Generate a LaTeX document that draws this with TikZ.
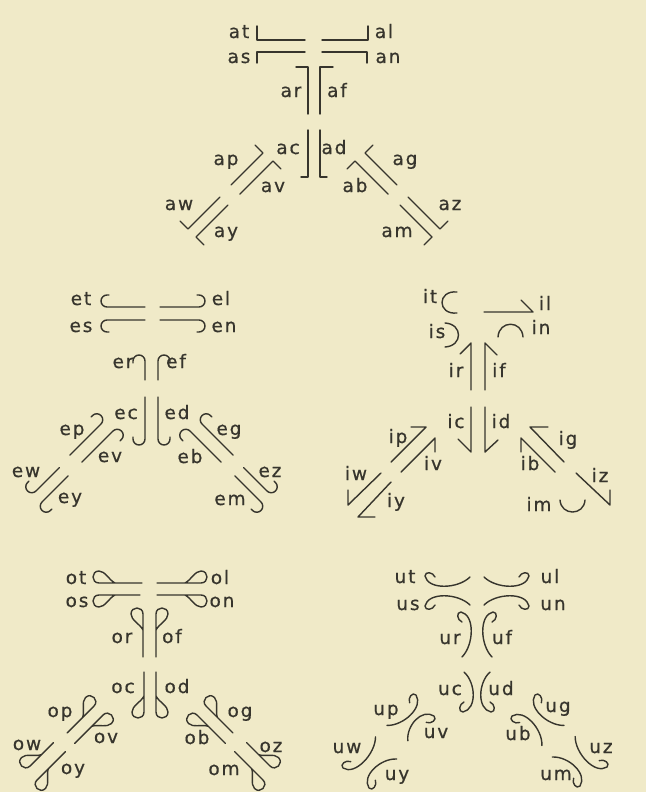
\documentclass[tikz,border=0pt]{standalone}
\usepackage{fontspec}
\setmainfont{DejaVu Sans}[LetterSpace=10,FakeBold=0.6]
\definecolor{bg}{RGB}{240,234,200}
\definecolor{ink}{RGB}{55,53,45}
% square hook: x,y of hook corner, direction angle, side, line length, hook length
\newcommand\sqh[6]{\draw[stk,shift={(#1,#2)},rotate=#3,yscale=#4] (-#5,0) -- (0,0) -- (0,#6);}
% round hook
\newcommand\rdh[5]{\draw[stk,shift={(#1,#2)},rotate=#3,yscale=#4] (-#5,0) -- (0,0) arc[start angle=-90,end angle=90,radius=6] -- ++(-2,0);}
% loop hook
\newcommand\lph[5]{\draw[stk,shift={(#1,#2)},rotate=#3,yscale=#4] (-#5,0) -- (0,0) .. controls (8,0) and (8,12) .. (0,12) .. controls (-6,12) and (-10,3) .. (-16,0);}
% curved stroke with curl
\newcommand\uh[5]{\draw[stk,shift={(#1,#2)},rotate=#3,yscale=#4] (-#5,-1) .. controls ({-0.73*#5},-13) and (-3,-14) .. (0,0) .. controls (0,5) and (-8,4) .. (-10,-1);}
\begin{document}
\begin{tikzpicture}[x=1pt,y=-1pt,
  stk/.style={draw=ink,line width=1.4pt,line cap=round,line join=round},
  lab/.style={text=ink,font=\fontsize{18.5}{18.5}\selectfont,inner sep=0pt,anchor=base,yshift=-5pt}]
\fill[bg] (0,0) rectangle (646,792);
\useasboundingbox (0,0) rectangle (646,792);

% ---------------- A ----------------
\sqh{257}{40}{180}{1}{48}{14}
\sqh{368}{40}{0}{-1}{46}{14}
\sqh{257}{52}{180}{-1}{48}{11}
\sqh{367}{52}{0}{1}{45}{11}
\sqh{308}{67}{90}{-1}{47}{12}
\sqh{320}{67}{90}{1}{47}{13}
\sqh{308}{177}{-90}{1}{47}{7}
\sqh{320}{177}{-90}{-1}{47}{7}
\sqh{263}{153}{45}{-1}{45}{11}
\sqh{273}{161}{45}{1}{47}{11}
\sqh{188}{229}{225}{1}{45}{11}
\sqh{196}{237}{225}{-1}{45}{11}
\sqh{365}{153}{135}{1}{45}{11}
\sqh{355}{161}{135}{-1}{47}{11}
\sqh{440}{229}{-45}{-1}{45}{11}
\sqh{432}{237}{-45}{1}{45}{11}
\node[lab] (Lat) at (239,33) {at};
\node[lab] (Las) at (239,58) {as};
\node[lab] (Lal) at (384,33) {al};
\node[lab] (Lan) at (388,58) {an};
\node[lab] (Lar) at (291,92) {ar};
\node[lab] (Laf) at (337,92) {af};
\node[lab] (Lac) at (288,149) {ac};
\node[lab] (Lad) at (334,149) {ad};
\node[lab] (Lap) at (226,160) {ap};
\node[lab] (Lav) at (273,187) {av};
\node[lab] (Law) at (179,205) {aw};
\node[lab] (Lay) at (226,232) {ay};
\node[lab] (Lag) at (405,160) {ag};
\node[lab] (Lab) at (355,187) {ab};
\node[lab] (Laz) at (450,205) {az};
\node[lab] (Lam) at (397,232) {am};

% ---------------- E ----------------
\rdh{107}{307}{180}{1}{38}
\rdh{199}{307}{0}{-1}{39}
\rdh{107}{320}{180}{-1}{38}
\rdh{199}{320}{0}{1}{39}
\rdh{145}{361}{90}{-1}{19}
\rdh{158}{361}{90}{1}{19}
\rdh{145}{439}{-90}{1}{42}
\rdh{158}{439}{-90}{-1}{42}
\rdh{101}{424}{45}{-1}{44}
\rdh{113}{431}{45}{1}{44}
\rdh{36}{491}{225}{1}{33}
\rdh{42}{502}{225}{-1}{37}
\rdh{202}{424}{135}{1}{44}
\rdh{190}{431}{135}{-1}{44}
\rdh{267}{491}{-45}{-1}{33}
\rdh{261}{502}{-45}{1}{37}
\node[lab] (Let) at (81,300) {et};
\node[lab] (Les) at (81,327) {es};
\node[lab] (Lel) at (221,300) {el};
\node[lab] (Len) at (224,327) {en};
\node[lab] (Ler) at (123,363) {er};
\node[lab] (Lef) at (176,363) {ef};
\node[lab] (Lec) at (126,414) {ec};
\node[lab] (Led) at (177,414) {ed};
\node[lab] (Lep) at (72,430) {ep};
\node[lab] (Lev) at (110,457) {ev};
\node[lab] (Lew) at (26,472) {ew};
\node[lab] (Ley) at (70,498) {ey};
\node[lab] (Leg) at (229,430) {eg};
\node[lab] (Leb) at (190,458) {eb};
\node[lab] (Lez) at (270,472) {ez};
\node[lab] (Lem) at (230,500) {em};

% ---------------- I ----------------
\draw[stk] (457,292) .. controls (437,290) and (437,315) .. (457,313);
\draw[stk] (484,312) -- (533,312) -- (521,300);
\draw[stk] (445,323) .. controls (463,324) and (463,346) .. (445,347);
\draw[stk] (498,337) .. controls (499,320) and (522,320) .. (523,337);
\draw[stk] (471,390) -- (471,343) -- (460,354);
\draw[stk] (485,390) -- (485,343) -- (497,355);
\draw[stk] (471,407) -- (471,452) -- (458,439);
\draw[stk] (485,407) -- (485,452) -- (498,440);
\draw[stk] (391,462) -- (426,427) -- (411,427);
\draw[stk] (401,472) -- (435,438) -- (435,452);
\draw[stk] (381,473) -- (348,505) -- (348,490);
\draw[stk] (391,482) -- (358,517) -- (375,517);
\draw[stk] (564,462) -- (530,427) -- (548,427);
\draw[stk] (555,472) -- (521,438) -- (521,452);
\draw[stk] (576,473) -- (610,505) -- (610,490);
\draw[stk] (560,500) .. controls (561,516) and (584,516) .. (585,500);
\node[lab] (Lit) at (430,298) {it};
\node[lab] (Lil) at (545,305) {il};
\node[lab] (Lis) at (437,333) {is};
\node[lab] (Lin) at (541,329) {in};
\node[lab] (Lir) at (456,372) {ir};
\node[lab] (Lif) at (499,372) {if};
\node[lab] (Lic) at (456,423) {ic};
\node[lab] (Lid) at (501,423) {id};
\node[lab] (Lip) at (398,438) {ip};
\node[lab] (Liv) at (433,465) {iv};
\node[lab] (Liw) at (356,475) {iw};
\node[lab] (Liy) at (396,502) {iy};
\node[lab] (Lig) at (568,440) {ig};
\node[lab] (Lib) at (530,465) {ib};
\node[lab] (Liz) at (600,477) {iz};
\node[lab] (Lim) at (539,506) {im};

% ---------------- O ----------------
\lph{99}{583}{180}{1}{43}
\lph{201}{583}{0}{-1}{44}
\lph{99}{595}{180}{-1}{41}
\lph{201}{595}{0}{1}{44}
\lph{143}{614}{90}{-1}{43}
\lph{156}{614}{90}{1}{43}
\lph{144}{712}{-90}{1}{40}
\lph{156}{712}{-90}{-1}{40}
\lph{94}{706}{45}{-1}{38}
\lph{103}{715}{45}{1}{40}
\lph{30}{766}{225}{1}{33}
\lph{37}{780}{225}{-1}{40}
\lph{206}{706}{135}{1}{38}
\lph{197}{715}{135}{-1}{40}
\lph{270}{766}{-45}{-1}{33}
\lph{263}{780}{-45}{1}{40}
\node[lab] (Lot) at (76,579) {ot};
\node[lab] (Los) at (77,602) {os};
\node[lab] (Lol) at (220,579) {ol};
\node[lab] (Lon) at (222,602) {on};
\node[lab] (Lor) at (122,638) {or};
\node[lab] (Lof) at (172,638) {of};
\node[lab] (Loc) at (123,688) {oc};
\node[lab] (Lod) at (177,688) {od};
\node[lab] (Lop) at (60,712) {op};
\node[lab] (Lov) at (106,738) {ov};
\node[lab] (Low) at (27,745) {ow};
\node[lab] (Loy) at (73,769) {oy};
\node[lab] (Log) at (240,712) {og};
\node[lab] (Lob) at (197,739) {ob};
\node[lab] (Loz) at (271,747) {oz};
\node[lab] (Lom) at (224,770) {om};

% ---------------- U ----------------
\uh{425}{576}{180}{1}{45}
\uh{529}{576}{0}{-1}{45}
\uh{425}{606}{180}{-1}{45}
\uh{529}{606}{0}{1}{45}
\uh{461}{612}{90}{-1}{45}
\uh{493}{612}{90}{1}{45}
\uh{463}{712}{-90}{1}{40}
\uh{491}{712}{-90}{-1}{40}
\uh{416}{695}{45}{-1}{42}
\uh{434}{716}{45}{1}{36}
\uh{343}{768}{225}{1}{45}
\uh{369}{788}{225}{-1}{40}
\uh{535}{695}{135}{1}{42}
\uh{512}{716}{134}{-1}{42}
\uh{607}{767}{-45}{-1}{44}
\uh{580}{786}{-45}{1}{40}
\node[lab] (Lut) at (405,578) {ut};
\node[lab] (Lul) at (550,578) {ul};
\node[lab] (Lus) at (408,605) {us};
\node[lab] (Lun) at (553,605) {un};
\node[lab] (Lur) at (450,639) {ur};
\node[lab] (Luf) at (502,639) {uf};
\node[lab] (Luc) at (450,690) {uc};
\node[lab] (Lud) at (501,690) {ud};
\node[lab] (Lup) at (386,710) {up};
\node[lab] (Luv) at (436,733) {uv};
\node[lab] (Luw) at (347,748) {uw};
\node[lab] (Luy) at (397,775) {uy};
\node[lab] (Lug) at (558,707) {ug};
\node[lab] (Lub) at (518,735) {ub};
\node[lab] (Luz) at (601,748) {uz};
\node[lab] (Lum) at (556,775) {um};
\end{tikzpicture}
\end{document}
